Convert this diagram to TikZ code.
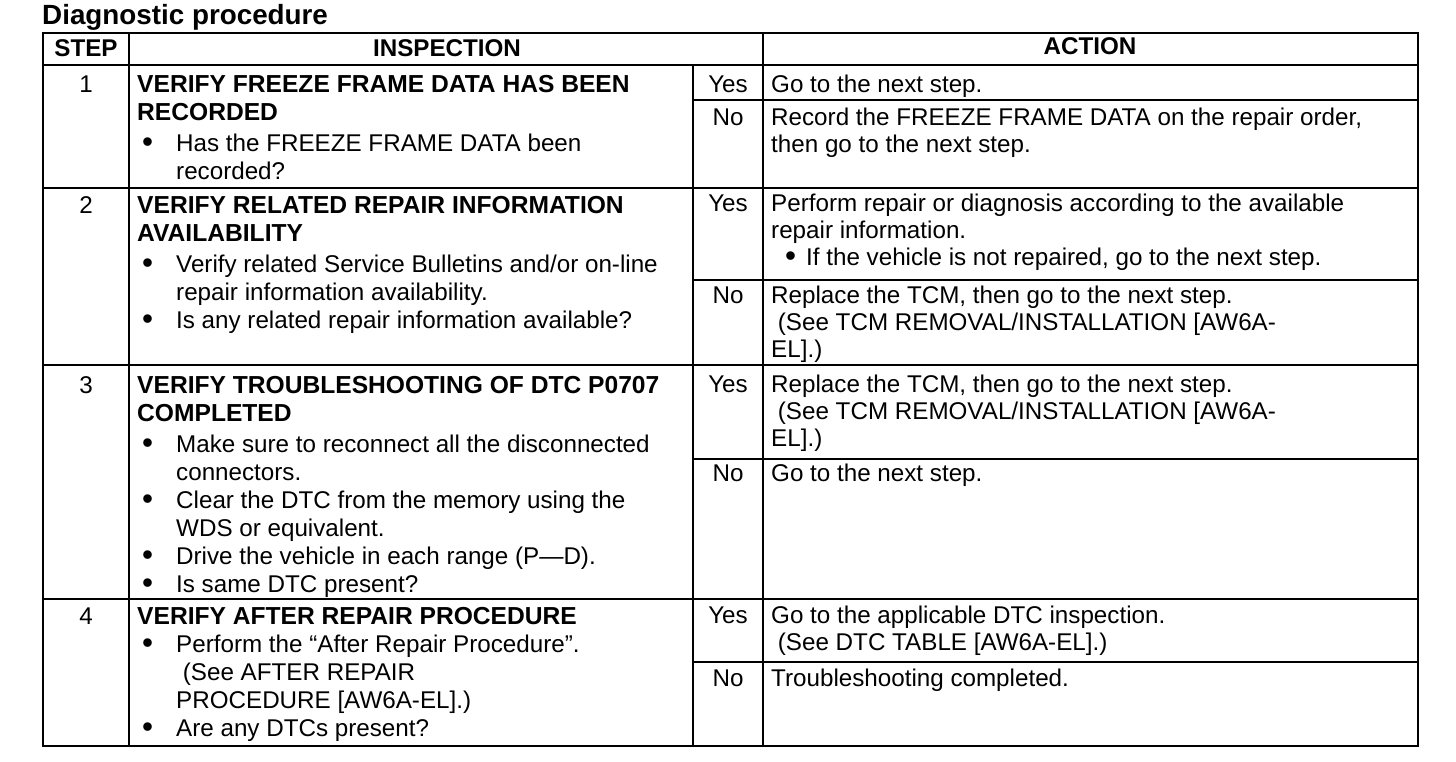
\documentclass[tikz,border=0pt]{standalone}
\usepackage{fontspec}
\setmainfont{Liberation Sans}

\newcommand{\insfont}{\fontsize{24.2}{28}\selectfont}
\newcommand{\actfont}{\fontsize{24.2}{27}\selectfont}
\newcommand{\titlefont}{\fontsize{27.8}{30}\selectfont\bfseries}
\newcommand{\fst}{\rule{0pt}{20pt}}
\newcommand{\hd}[1]{{\fontsize{24.6}{28}\selectfont\bfseries #1}}
\newcommand{\dotmark}{\smash{\raisebox{-0.8pt}{\scalebox{1.3}{\textbullet}}}}
\newcommand{\insbul}{\makebox[39pt][l]{\hspace{5pt}\dotmark}}
\newcommand{\insind}{\hspace*{39pt}}
\newcommand{\actbul}{\makebox[35pt][l]{\hspace{14pt}\dotmark}}

\tikzset{
  ins/.style={anchor=north west, inner sep=0pt, align=left, font=\insfont, yshift=20pt},
  act/.style={ins, font=\actfont},
  lab/.style={anchor=base, inner sep=0pt, font=\insfont},
  head/.style={lab, font=\insfont\bfseries},
  grid/.style={line width=1.7pt},
}

\begin{document}
\begin{tikzpicture}[x=1pt,y=-1pt]
  \useasboundingbox (0,0) rectangle (1456,762);
  \node[anchor=base west, inner sep=0pt, font=\titlefont] (title) at (42,25) {Diagnostic procedure};

  % table grid
  \draw[grid] (43,33) rectangle (1418,746);
  \foreach \y in {65,188,365,599}
    \draw[grid] (43,\y) -- (1418,\y);
  \foreach \y in {100,280,459,662}
    \draw[grid] (693,\y) -- (1418,\y);
  \draw[grid] (129,33) -- (129,746);
  \draw[grid] (763,33) -- (763,746);
  \draw[grid] (693,65) -- (693,746);

  % header
  \node[head] (hstep) at (86,57) {STEP};
  \node[head] (hins) at (447,57) {INSPECTION};
  \node[head] (hact) at (1090,55) {ACTION};

  % step numbers and answers
  \node[lab] (s1) at (86,92.5) {1};
  \node[lab] (s2) at (86,213.5) {2};
  \node[lab] (s3) at (86,393.5) {3};
  \node[lab] (s4) at (86,624.5) {4};
  \node[lab] (yes1) at (728,92.5) {Yes};
  \node[lab] (no1) at (728,125.5) {No};
  \node[lab] (yes2) at (728,211.5) {Yes};
  \node[lab] (no2) at (728,303.5) {No};
  \node[lab] (yes3) at (728,392.5) {Yes};
  \node[lab] (no3) at (728,481.5) {No};
  \node[lab] (yes4) at (728,623.5) {Yes};
  \node[lab] (no4) at (728,686.5) {No};

  % inspection
  \node[ins] (ins1) at (137,92.5) {\fst\hd{VERIFY FREEZE FRAME DATA HAS BEEN}\\
    \hd{RECORDED}\\[3pt]
    \insbul Has the FREEZE FRAME DATA been\\
    \insind recorded?};
  \node[ins] (ins2) at (137,213.5) {\fst\hd{VERIFY RELATED REPAIR INFORMATION}\\
    \hd{AVAILABILITY}\\[3pt]
    \insbul Verify related Service Bulletins and/or on-line\\
    \insind repair information availability.\\
    \insbul Is any related repair information available?};
  \node[ins] (ins3) at (137,393.5) {\fst\hd{VERIFY TROUBLESHOOTING OF DTC P0707}\\
    \hd{COMPLETED}\\[3pt]
    \insbul Make sure to reconnect all the disconnected\\
    \insind connectors.\\
    \insbul Clear the DTC from the memory using the\\
    \insind WDS or equivalent.\\
    \insbul Drive the vehicle in each range (P---D).\\
    \insbul Is same DTC present?};
  \node[ins] (ins4) at (137,624.5) {\fst\hd{VERIFY AFTER REPAIR PROCEDURE}\\
    \insbul Perform the “After Repair Procedure”.\\
    \insind\ (See AFTER REPAIR\\
    \insind PROCEDURE [AW6A-EL].)\\
    \insbul Are any DTCs present?};

  % action
  \node[act] (act1y) at (771,92.5) {\fst Go to the next step.};
  \node[act] (act1n) at (771,125.5) {\fst Record the FREEZE FRAME DATA on the repair order,\\
    then go to the next step.};
  \node[act] (act2y) at (771,211.5) {\fst Perform repair or diagnosis according to the available\\
    repair information.\\
    \actbul If the vehicle is not repaired, go to the next step.};
  \node[act] (act2n) at (771,303.5) {\fst Replace the TCM, then go to the next step.\\
    \ (See TCM REMOVAL/INSTALLATION [AW6A-\\
    EL].)};
  \node[act] (act3y) at (771,392.5) {\fst Replace the TCM, then go to the next step.\\
    \ (See TCM REMOVAL/INSTALLATION [AW6A-\\
    EL].)};
  \node[act] (act3n) at (771,481.5) {\fst Go to the next step.};
  \node[act] (act4y) at (771,623.5) {\fst Go to the applicable DTC inspection.\\
    \ (See DTC TABLE [AW6A-EL].)};
  \node[act] (act4n) at (771,686.5) {\fst Troubleshooting completed.};
\end{tikzpicture}
\end{document}
